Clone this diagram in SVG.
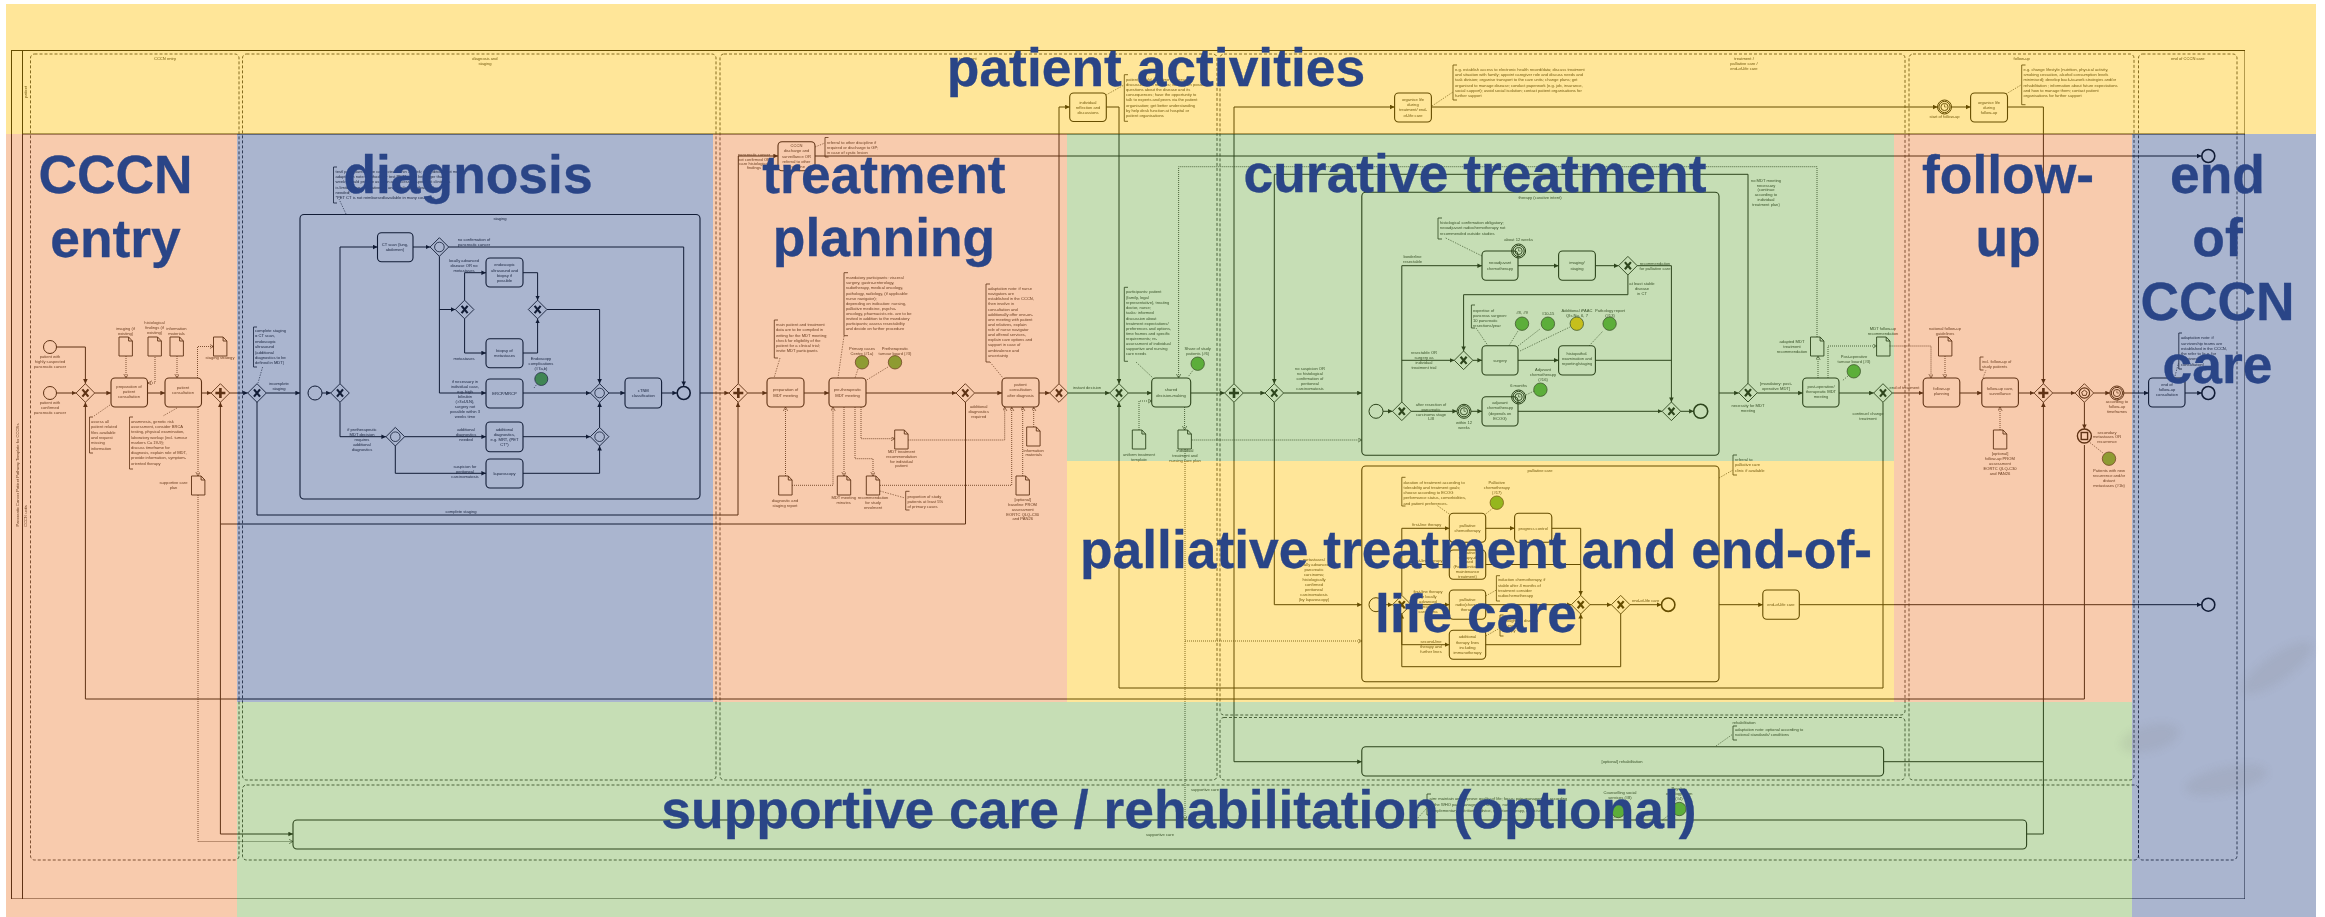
<svg xmlns="http://www.w3.org/2000/svg" width="2325" height="917" viewBox="0 0 2325 917">
<style>
text{font-family:"Liberation Sans",Arial,sans-serif}
.t{font-size:4.1px;fill:#111}
.c{text-anchor:middle}
.h{font-size:53.4px;font-weight:bold;fill:#2A4587;text-anchor:middle;stroke:#2A4587;stroke-width:.3}
.b{opacity:.4}
.pool{fill:none;stroke:#000;stroke-width:1}
.grp{fill:none;stroke:#000;stroke-width:.8;stroke-dasharray:3 2}
.task{fill:none;stroke:#000;stroke-width:1.1}
.sub{fill:none;stroke:#000;stroke-width:1.1}
.f{fill:none;stroke:#000;stroke-width:1}
.a{marker-end:url(#ar)}
.d{fill:none;stroke:#000;stroke-width:.8;stroke-dasharray:1 1}
.o{marker-end:url(#op)}
.l{fill:none;stroke:#000;stroke-width:.6;stroke-dasharray:1.4 1.2}
.br{fill:none;stroke:#000;stroke-width:.8}
.doc{fill:none;stroke:#000;stroke-width:.9}
.ev{fill:none;stroke:#000;stroke-width:1}
.end{fill:none;stroke:#000;stroke-width:1.6}
.kpi{stroke:#222;stroke-width:.8;fill:#50B030}
.kpo{stroke:#222;stroke-width:.8;fill:#FFCC00}
</style>
<defs>
<filter id="soft" x="0" y="0" width="1" height="1"><feGaussianBlur stdDeviation=".3"/></filter>
<filter id="blot" x="-30%" y="-30%" width="160%" height="160%"><feGaussianBlur stdDeviation="4"/></filter>
<marker id="ar" markerUnits="userSpaceOnUse" markerWidth="5" markerHeight="5" refX="4.6" refY="2.3" orient="auto"><path d="M0 0L4.6 2.3L0 4.6Z" fill="#000"/></marker>
<marker id="op" markerUnits="userSpaceOnUse" markerWidth="5" markerHeight="5" refX="4" refY="2.2" orient="auto"><path d="M0 0L4 2.2L0 4.4" fill="none" stroke="#000" stroke-width=".6"/></marker>
<g id="xor"><path d="M0-9.3L9.3 0L0 9.3L-9.3 0Z" fill="none" stroke="#000" stroke-width=".9"/><path d="M-3-3.6L3 3.6M3-3.6L-3 3.6" fill="none" stroke="#000" stroke-width="2.2"/></g>
<g id="and"><path d="M0-9.3L9.3 0L0 9.3L-9.3 0Z" fill="none" stroke="#000" stroke-width=".9"/><path d="M-5 0H5M0-5V5" fill="none" stroke="#000" stroke-width="2.6"/></g>
<g id="evg"><path d="M0-9.3L9.3 0L0 9.3L-9.3 0Z" fill="none" stroke="#000" stroke-width=".9"/><circle r="4.8" fill="none" stroke="#000" stroke-width=".8"/></g>
<g id="evd"><path d="M0-9.3L9.3 0L0 9.3L-9.3 0Z" fill="none" stroke="#000" stroke-width=".9"/><circle r="5.2" fill="none" stroke="#000" stroke-width="1.2"/><path d="M0-2.8L2.7-.8L1.7 2.4H-1.7L-2.7-.8Z" fill="none" stroke="#000" stroke-width=".9"/></g>
<g id="tim"><circle r="7" fill="none" stroke="#000" stroke-width="1"/><circle r="5.6" fill="none" stroke="#000" stroke-width="1"/><circle r="3.6" fill="none" stroke="#000" stroke-width=".9"/><path d="M0-2.6V0H2" fill="none" stroke="#000" stroke-width=".6"/></g>
<g id="doc"><path d="M0 0H9.6L13.4 4V19H0Z" class="doc"/><path d="M9.6 0V4H13.4" class="doc"/></g>
</defs>
<rect width="2325" height="917" fill="#fff"/>

<g id="diagram" filter="url(#soft)">
<g id="pool">
<rect class="pool" x="11.5" y="50.5" width="2233.5" height="848.5"/>
<path class="pool" d="M22.5 50.5V899M22.5 134H2245"/>
<text class="t c" transform="translate(18.5 475) rotate(-90)">Pancreatic Cancer Patient Pathway Template for CCCNs</text>
<text class="t c" transform="translate(26.5 516) rotate(-90)">CCCN units</text>
<text class="t c" transform="translate(26.5 92) rotate(-90)">patient</text>
</g>

<g id="phases">
<rect class="grp" x="30.5" y="54" width="208.5" height="806" rx="4"/><text class="t c" x="165" y="60">CCCN entry</text>
<rect class="grp" x="242.5" y="54" width="473.5" height="726" rx="4"/><text class="t c" x="485" y="60">diagnosis and</text><text class="t c" x="485" y="65">staging</text>
<rect class="grp" x="720" y="54" width="497" height="726" rx="4"/><text class="t c" x="968" y="60">treatment</text>
<rect class="grp" x="1220" y="54" width="685" height="661" rx="4"/><text class="t c" x="1744" y="60">treatment /</text><text class="t c" x="1744" y="65">palliative care /</text><text class="t c" x="1744" y="70">end-of-life care</text>
<rect class="grp" x="1220" y="717.5" width="685" height="62.5" rx="4"/><text class="t c" x="1744" y="724">rehabilitation</text>
<rect class="grp" x="1909" y="54" width="225" height="726" rx="4"/><text class="t c" x="2021.7" y="60">follow-up</text>
<rect class="grp" x="2138.5" y="54" width="98.5" height="806" rx="4"/><text class="t c" x="2187.8" y="60">end of CCCN care</text>
<rect class="grp" x="242.5" y="785" width="1896" height="75" rx="4"/><text class="t c" x="1205" y="791">supportive care</text>
</g>

<g id="connectors">
<path class="f a" d="M56.5 347H85.4V383.7"/>
<path class="f a" d="M56.5 393H76.1"/>
<path class="f a" d="M94.7 393H111"/>
<path class="f a" d="M147.5 393H165"/>
<path class="f a" d="M201.5 393H211.1"/>
<path class="f a" d="M229.7 393H247.7"/>
<path class="f a" d="M2084.4 445V699H85.4V402.3"/>
<path class="f a" d="M965.5 402V524H220.4V402.3"/>
<path class="f a" d="M220.4 524V834H293"/>
<path class="d o" d="M126 356V378"/>
<path class="d o" d="M155 357V383H148"/>
<path class="d o" d="M177 356V378"/>
<path class="d o" d="M197.5 378V346.5H213.5"/>
<path class="d o" d="M198 407V476"/>
<path class="d o" d="M198 495V841.5H293"/>
<path class="l" d="M110 405L94 416M177 408L163 416M262.6 367L258 383"/>
<path class="f a" d="M266.3 393H300"/>
<path class="f a" d="M257 402V515H738V402.3"/>
<path class="f a" d="M322 393H330.7"/>
<path class="f a" d="M340 383.7V247H377.5"/>
<path class="f a" d="M340 402.3V436.7H386"/>
<path class="f a" d="M413 247H430.1"/>
<path class="f a" d="M448.7 247H683.7V386"/>
<path class="f a" d="M439.4 256.3V393H486"/>
<path class="f a" d="M439.4 309.5H455.3"/>
<path class="f a" d="M464.6 300.2V272.7H486"/>
<path class="f a" d="M464.6 318.8V353H486"/>
<path class="f a" d="M523 272.7H537.6V300.2"/>
<path class="f a" d="M523 353H537.6V318.8"/>
<path class="f a" d="M546.9 309.5H599.6V383.7"/>
<path class="f a" d="M523 393H590.3"/>
<path class="f a" d="M404.6 436.7H486"/>
<path class="f a" d="M395.3 446V473.3H486"/>
<path class="f a" d="M523 436.7H590.3"/>
<path class="f a" d="M523 473.3H599.6V446"/>
<path class="f a" d="M599.6 427.4V402.3"/>
<path class="f a" d="M608.9 393H625"/>
<path class="f a" d="M661.6 393H677"/>
<path class="f a" d="M700 393H729"/>
<path class="l" d="M346 214L339 199M534 388L537 384"/>
<path class="f a" d="M747.6 393H767"/>
<path class="f a" d="M738.3 383.7V156H778"/>
<path class="f a" d="M815 156H2201.5"/>
<path class="f a" d="M804 393H829"/>
<path class="f a" d="M866 393H956.2"/>
<path class="f a" d="M974.8 393H1002"/>
<path class="f a" d="M1039 393H1049.7"/>
<path class="f a" d="M1059 383.7V107H1069.7"/>
<path class="f a" d="M1106.3 107H1119V383.7"/>
<path class="f a" d="M1068.3 393H1109.7"/>
<path class="f a" d="M1128.3 393H1151.7"/>
<path class="f a" d="M1883 402.3V688H1119V402.3"/>
<path class="d o" d="M785.5 476V407"/>
<path class="d o" d="M792 485.3H833V407"/>
<path class="d o" d="M844 407V476"/>
<path class="d o" d="M855 407V458.7H873V476"/>
<path class="d o" d="M861 407V438.7H894.7"/>
<path class="d o" d="M908.3 440H1004.7V407"/>
<path class="d o" d="M880 485.3H1011.7V407"/>
<path class="d o" d="M1022.7 476V407"/>
<path class="d o" d="M1033.7 427V407"/>
<path class="d o" d="M1139 430V401H1151.7"/>
<path class="d o" d="M1184.6 407V430"/>
<path class="d o" d="M1191.7 440H1361.8"/>
<path class="d o" d="M1185 449V820"/>
<path class="d o" d="M1185 641H1361.8"/>
<path class="d o" d="M1817 337V166.7H1178.6V378"/>
<path class="l" d="M780 358L774 378M844 336L838 378M990 362L1003 378M1136 362L1153 378M858 369L855 378M888 367L866.7 380M1192.7 370.7L1188 377M880 491L905 498M815 147L825 143M1106 95L1124 85"/>
<path class="f a" d="M1190.7 393H1224.7"/>
<path class="f a" d="M1234 383.7V107H1394.6"/>
<path class="f a" d="M1431.4 107H1937.5"/>
<path class="f a" d="M1243.3 393H1265"/>
<path class="f a" d="M1234 402.3V761.7H1361.8"/>
<path class="f a" d="M1748 383.7V174.3H1274.3V383.7"/>
<path class="f a" d="M1283.6 393H1361.8"/>
<path class="f a" d="M1274.3 402.3V604.7H1361.8"/>
<path class="f a" d="M1719 393H1738.7"/>
<path class="f a" d="M1719 604.7H1762.8"/>
<path class="f a" d="M1799.3 604.7H2201.5"/>
<path class="f a" d="M1757.3 393H1802.7"/>
<path class="f a" d="M1839 393H1873.7"/>
<path class="f a" d="M1892.3 393H1923.2"/>
<path class="d o" d="M1818 378V356"/>
<path class="d o" d="M1828 378V346H1876.6"/>
<path class="d o" d="M1889.6 346H1931V378"/>
<path class="d o" d="M1945 356V378"/>
<path class="d o" d="M2000 430V407"/>
<path class="f a" d="M1959.8 393H1981.8"/>
<path class="f a" d="M2018.4 393H2034.1"/>
<path class="f a" d="M2052.7 393H2075.1"/>
<path class="f a" d="M2093.7 393H2109.9"/>
<path class="f a" d="M2123.9 393H2148.6"/>
<path class="f a" d="M2185 393H2201.8"/>
<path class="f a" d="M2084.4 402.3V429"/>
<path class="f a" d="M1951.5 107H1970.6"/>
<path class="f a" d="M2007.5 107H2043.4V383.7"/>
<path class="f a" d="M1883.6 761.7H2043.4V402.3"/>
<path class="f" d="M2026.6 834H2043.4V761.7"/>
<path class="l" d="M1432 106L1453 92M2006 94L2021 85M1983 378L1986 370M1848 376L1842 381M2088 441L2103 453M2175 376L2178.5 363M1719 478L1733 470M1716 746L1733 734M1416 820L1427 808M1612.5 820L1618 811M1662.5 820L1673 812"/>
<path class="f a" d="M1383 411.3H1392.5"/>
<path class="f a" d="M1401.8 402V265.7H1482"/>
<path class="f a" d="M1518 265.7H1558.6"/>
<path class="f a" d="M1595.4 265.7H1618.6"/>
<path class="f a" d="M1637.2 265.7H1671.4V402"/>
<path class="f a" d="M1627.9 275V294.7H1463.6V351"/>
<path class="f a" d="M1401.8 360.3H1454.3"/>
<path class="f a" d="M1472.9 360.3H1482"/>
<path class="f a" d="M1518 360.3H1558.6"/>
<path class="f" d="M1595.4 360.3H1671.4"/>
<path class="f a" d="M1411.1 411.3H1457"/>
<path class="f a" d="M1471 411.3H1482"/>
<path class="f a" d="M1518 411.3H1662.1"/>
<path class="f a" d="M1680.7 411.3H1693.7"/>
<path class="l" d="M1445.7 238L1482 256M1476 328L1487.5 345M1509 345.7L1518 331M1518 346L1540 329M1520 351L1570 327M1589 346L1603 331M1526 395L1534 391"/>
<path class="f a" d="M1383 604.7H1392.5"/>
<path class="f a" d="M1401.8 595.4V528.3H1449.3"/>
<path class="f a" d="M1485.7 528.3H1514.6"/>
<path class="f a" d="M1551.8 528.3H1580.7V595.4"/>
<path class="f a" d="M1401.8 564.5H1449.3"/>
<path class="f" d="M1485.7 564.5H1580.7"/>
<path class="f a" d="M1411.1 604.7H1449.3"/>
<path class="f a" d="M1485.7 604.7H1571.4"/>
<path class="f a" d="M1401.8 614V644.7H1449.3"/>
<path class="f a" d="M1485.7 644.7H1580.7V614"/>
<path class="f a" d="M1590 604.7H1611.4"/>
<path class="f a" d="M1630 604.7H1661.5"/>
<path class="f a" d="M1620.7 614V666.7H1401.8V614"/>
<path class="l" d="M1437.5 505.7L1449.3 514M1485.7 514L1493 508M1485.7 596L1496.4 590M1485.7 636L1500 628"/>
</g>

<g id="s1"><circle class="ev" cx="50" cy="347" r="6.5"/><text class="t c" x="50" y="358">patient with<tspan x="50" dy="5">highly suspected</tspan><tspan x="50" dy="5">pancreatic cancer</tspan></text></g>
<g id="s2"><circle class="ev" cx="50" cy="393" r="6.5"/><text class="t c" x="50" y="404">patient with<tspan x="50" dy="5">confirmed</tspan><tspan x="50" dy="5">pancreatic cancer</tspan></text></g>
<g id="g1"><use href="#xor" x="85.4" y="393"/></g>
<g id="t1"><rect class="task" x="111" y="378" width="36.5" height="29" rx="4"/><text class="t c" x="129" y="388">preparation of<tspan x="129" dy="5">patient</tspan><tspan x="129" dy="5">consultation</tspan></text></g>
<g id="t2"><rect class="task" x="165" y="378" width="36.5" height="29" rx="4"/><text class="t c" x="183" y="388.5">patient<tspan x="183" dy="5">consultation</tspan></text></g>
<g id="g2"><use href="#and" x="220.4" y="393"/></g>
<g id="d1"><use href="#doc" x="119" y="337"/><text class="t c" x="125.5" y="330">imaging (if<tspan x="125.5" dy="5">existing)</tspan></text></g>
<g id="d2"><use href="#doc" x="148" y="337"/><text class="t c" x="154.5" y="324">histological<tspan x="154.5" dy="5">findings (if</tspan><tspan x="154.5" dy="5">existing)</tspan></text></g>
<g id="d3"><use href="#doc" x="170" y="337"/><text class="t c" x="176.5" y="330">information<tspan x="176.5" dy="5">materials</tspan></text></g>
<g id="d4"><use href="#doc" x="213.5" y="337"/><text class="t c" x="220" y="359">staging strategy</text></g>
<g id="d5"><use href="#doc" x="191.5" y="476"/><text class="t c" x="173.5" y="484">supportive care<tspan x="173.5" dy="5">plan</tspan></text></g>
<g id="n1"><path class="br" d="M93 417H89.5V453H93"/><text class="t" x="91" y="423">assess all<tspan x="91" dy="5.3">patient related</tspan><tspan x="91" dy="5.3">files available</tspan><tspan x="91" dy="5.3">and request</tspan><tspan x="91" dy="5.3">missing</tspan><tspan x="91" dy="5.3">information</tspan></text></g>
<g id="n2"><path class="br" d="M133 417H129.5V469H133"/><text class="t" x="131" y="423">anamnesis, genetic risk<tspan x="131" dy="5.2">assessment, consider BRCA</tspan><tspan x="131" dy="5.2">testing, physical examination,</tspan><tspan x="131" dy="5.2">laboratory workup (incl. tumour</tspan><tspan x="131" dy="5.2">markers Ca 19-9);</tspan><tspan x="131" dy="5.2">discuss timeframe for</tspan><tspan x="131" dy="5.2">diagnosis, explain role of MDT,</tspan><tspan x="131" dy="5.2">provide information, symptom-</tspan><tspan x="131" dy="5.2">oriented therapy</tspan></text></g>

<g id="g3"><use href="#xor" x="257" y="393"/><text class="t c" x="279" y="385">incomplete<tspan x="279" dy="5">staging</tspan></text><text class="t c" x="461" y="513">complete staging</text></g>
<g id="n3"><path class="br" d="M257 327H253.5V367H257"/><text class="t" x="255" y="332">complete staging<tspan x="255" dy="5.4">= CT scan,</tspan><tspan x="255" dy="5.4">endoscopic</tspan><tspan x="255" dy="5.4">ultrasound</tspan><tspan x="255" dy="5.4">(additional</tspan><tspan x="255" dy="5.4">diagnostics to be</tspan><tspan x="255" dy="5.4">defined in MDT)</tspan></text></g>
<g id="n4"><path class="br" d="M337 167H333.5V203H337"/><text class="t" x="335.5" y="173">test/ procedures to be conducted within 1 week; if conditions not met,<tspan x="335.5" dy="5">adaptation note: methods for test PET* might be longer than 1</tspan><tspan x="335.5" dy="5.4">week; should provide as soon as; access to specialist clinicians</tspan><tspan x="335.5" dy="5.2">is limited; use alternative CT and available pathways if</tspan><tspan x="335.5" dy="5.2">needed;</tspan><tspan x="335.5" dy="5">*PET CT is not reimbursed/available in many countries</tspan></text></g>
<g id="sp1"><rect class="sub" x="300" y="214.5" width="400" height="284.5" rx="4"/><text class="t c" x="500" y="220">staging</text></g>
<g id="d_s"><circle class="ev" cx="315" cy="393" r="7"/></g>
<g id="g4"><use href="#xor" x="340" y="393"/></g>
<g id="t3"><rect class="task" x="377.5" y="232.7" width="35.5" height="29" rx="4"/><text class="t c" x="395" y="246">CT scan (lung,<tspan x="395" dy="5">abdomen)</tspan></text></g>
<g id="g5"><use href="#evg" x="439.4" y="247"/><text class="t c" x="474" y="240.5">no confirmation of<tspan x="474" dy="5">pancreatic cancer</tspan></text><text class="t c" x="464" y="262">locally advanced<tspan x="464" dy="5">disease OR no</tspan><tspan x="464" dy="5">metastases</tspan></text><text class="t c" x="464" y="360">metastases</text></g>
<g id="t4"><rect class="task" x="486" y="258" width="37" height="29" rx="4"/><text class="t c" x="504.5" y="266">endoscopic<tspan x="504.5" dy="5.5">ultrasound and</tspan><tspan x="504.5" dy="5.5">biopsy if</tspan><tspan x="504.5" dy="5">possible</tspan></text></g>
<g id="g6"><use href="#xor" x="464.6" y="309.5"/></g>
<g id="g7"><use href="#xor" x="537.6" y="309.5"/></g>
<g id="t5"><rect class="task" x="486" y="338.7" width="37" height="29" rx="4"/><text class="t c" x="504.5" y="352">biopsy of<tspan x="504.5" dy="5">metastases</tspan></text></g>
<g id="t6"><rect class="task" x="486" y="379" width="37" height="29" rx="4"/><text class="t c" x="504.5" y="394.5">ERCP/MRCP</text><text class="t c" x="465" y="383">if necessary in<tspan x="465" dy="5">individual case,</tspan><tspan x="465" dy="5">e.g. high</tspan><tspan x="465" dy="5">bilirubin</tspan><tspan x="465" dy="5">(&gt;3xULN),</tspan><tspan x="465" dy="5">surgery not</tspan><tspan x="465" dy="5">possible within 3</tspan><tspan x="465" dy="5">weeks time</tspan></text></g>
<g id="k1"><circle class="kpi" cx="541.3" cy="379" r="6.5"/><text class="t c" x="541" y="360">Endoscopy<tspan x="541" dy="5">complications</tspan><tspan x="541" dy="5">(#7a,b)</tspan></text></g>
<g id="g8"><use href="#evg" x="599.6" y="393"/></g>
<g id="t7"><rect class="task" x="625" y="378" width="36.6" height="30" rx="4"/><text class="t c" x="643.3" y="392">cTNM<tspan x="643.3" dy="5">classification</tspan></text></g>
<g id="e1"><circle class="end" cx="683.7" cy="393" r="6.5"/></g>
<g id="g9"><use href="#evg" x="395.3" y="436.7"/><text class="t c" x="362" y="431">if pretherapeutic<tspan x="362" dy="5">MDT decision</tspan><tspan x="362" dy="5">requires</tspan><tspan x="362" dy="5">additional</tspan><tspan x="362" dy="5">diagnostics</tspan></text><text class="t c" x="466" y="431">additional<tspan x="466" dy="5">diagnostics</tspan><tspan x="466" dy="5">needed</tspan></text></g>
<g id="t8"><rect class="task" x="486" y="422" width="37" height="29.7" rx="4"/><text class="t c" x="504.5" y="431">additional<tspan x="504.5" dy="5">diagnostics,</tspan><tspan x="504.5" dy="5">e.g. MRT, (PET</tspan><tspan x="504.5" dy="5">CT*)</tspan></text></g>
<g id="g10"><use href="#evg" x="599.6" y="436.7"/></g>
<g id="t9"><rect class="task" x="486" y="459" width="37" height="29" rx="4"/><text class="t c" x="504.5" y="475">laparoscopy</text><text class="t c" x="465" y="467.5">suspicion for<tspan x="465" dy="5">peritoneal</tspan><tspan x="465" dy="5">carcinomatosis</tspan></text></g>

<g id="g11"><use href="#and" x="738.3" y="393"/></g>
<g id="t10"><rect class="task" x="767" y="378" width="37" height="29" rx="4"/><text class="t c" x="785.5" y="391">preparation of<tspan x="785.5" dy="6">MDT meeting</tspan></text></g>
<g id="t11"><rect class="task" x="829" y="378" width="37" height="29" rx="4"/><text class="t c" x="847.5" y="391">pre-therapeutic<tspan x="847.5" dy="6">MDT meeting</tspan></text></g>
<g id="g12"><use href="#xor" x="965.3" y="393"/><text class="t c" x="978.7" y="408">additional<tspan x="978.7" dy="4.8">diagnostics</tspan><tspan x="978.7" dy="4.8">required</tspan></text></g>
<g id="t12"><rect class="task" x="1002" y="378" width="37" height="29" rx="4"/><text class="t c" x="1020.5" y="386">patient<tspan x="1020.5" dy="5">consultation</tspan><tspan x="1020.5" dy="6">after diagnosis</tspan></text></g>
<g id="g13"><use href="#xor" x="1059" y="393"/><text class="t c" x="1087" y="389">instant decision</text></g>
<g id="t13"><rect class="task" x="778" y="141.7" width="37" height="29" rx="4"/><text class="t c" x="796.5" y="147">CCCN<tspan x="796.5" dy="5">discharge and</tspan><tspan x="796.5" dy="5.5">surveillance OR</tspan><tspan x="796.5" dy="5">referral to other</tspan><tspan x="796.5" dy="5">discipline</tspan></text><text class="t c" x="754" y="156">pancreatic cancer</text><text class="t c" x="754" y="161">not confirmed OR</text><text class="t c" x="754" y="165">care histological</text><text class="t c" x="754" y="169">findings</text></g>
<g id="n5"><path class="br" d="M828.5 137.5H825V157H828.5"/><text class="t" x="827" y="144">referral to other discipline if<tspan x="827" dy="5">required or discharge to GP;</tspan><tspan x="827" dy="5">in case of cystic lesion</tspan></text></g>
<g id="n6"><path class="br" d="M778 320H774.3V358H778"/><text class="t" x="776" y="326">main patient and treatment<tspan x="776" dy="5">data are to be compiled in</tspan><tspan x="776" dy="5.5">writing for the MDT meeting;</tspan><tspan x="776" dy="5">check for eligibility of the</tspan><tspan x="776" dy="5">patient for a clinical trial;</tspan><tspan x="776" dy="5">invite MDT participants</tspan></text></g>
<g id="n7"><path class="br" d="M848 272.7H844V335.7H848"/><text class="t" x="846" y="279">mandatory participants: visceral<tspan x="846" dy="5">surgery, gastro-enterology,</tspan><tspan x="846" dy="5">radiotherapy, medical oncology,</tspan><tspan x="846" dy="5.5">pathology, radiology, (if applicable:</tspan><tspan x="846" dy="5">nurse navigator);</tspan><tspan x="846" dy="5">depending on indication: nursing,</tspan><tspan x="846" dy="5">palliative medicine, psycho-</tspan><tspan x="846" dy="5.5">oncology, pharmacists etc. are to be</tspan><tspan x="846" dy="5">invited in addition to the mandatory</tspan><tspan x="846" dy="5">participants; assess resectability</tspan><tspan x="846" dy="5">and decide on further procedure</tspan></text></g>
<g id="n8"><path class="br" d="M990 284H986V362H990"/><text class="t" x="988" y="290">adaptation note: if nurse<tspan x="988" dy="5">navigators are</tspan><tspan x="988" dy="5">established in the CCCN,</tspan><tspan x="988" dy="5">then involve in</tspan><tspan x="988" dy="5.5">consultation and</tspan><tspan x="988" dy="5">additionally offer one-on-</tspan><tspan x="988" dy="5">one meeting with patient</tspan><tspan x="988" dy="5">and relatives, explain</tspan><tspan x="988" dy="5.5">role of nurse navigator</tspan><tspan x="988" dy="5">and offered services,</tspan><tspan x="988" dy="5">explain care options and</tspan><tspan x="988" dy="5">support in case of</tspan><tspan x="988" dy="5.5">ambivalence and</tspan><tspan x="988" dy="5">uncertainty</tspan></text></g>
<g id="k2"><circle class="kpi" cx="862" cy="362.3" r="6.7"/><text class="t c" x="862" y="350">Primary cases<tspan x="862" dy="4.5">Centre (#1a)</tspan></text></g>
<g id="k3"><circle class="kpi" cx="895" cy="362.3" r="6.7"/><text class="t c" x="895" y="350">Pretherapeutic<tspan x="895" dy="4.5">tumour board (#3)</tspan></text></g>
<g id="d6"><use href="#doc" x="894.7" y="430"/><text class="t c" x="901.5" y="453">MDT treatment<tspan x="901.5" dy="5">recommendation</tspan><tspan x="901.5" dy="4.5">for individual</tspan><tspan x="901.5" dy="4.5">patient</tspan></text></g>
<g id="d7"><use href="#doc" x="1026.7" y="427"/><text class="t c" x="1033.7" y="451.5">information<tspan x="1033.7" dy="4.5">materials</tspan></text></g>
<g id="d8"><use href="#doc" x="778.7" y="476"/><text class="t c" x="785" y="502">diagnostic and<tspan x="785" dy="5">staging report</tspan></text></g>
<g id="d9"><use href="#doc" x="837.3" y="476"/><text class="t c" x="843.7" y="498.5">MDT meeting<tspan x="843.7" dy="5">minutes</tspan></text></g>
<g id="d10"><use href="#doc" x="866.3" y="476"/><text class="t c" x="873" y="498.5">recommendation<tspan x="873" dy="5">for study</tspan><tspan x="873" dy="5">enrolment</tspan></text></g>
<g id="d11"><use href="#doc" x="1016" y="476"/><text class="t c" x="1022.7" y="501">[optional]<tspan x="1022.7" dy="5">baseline PROM</tspan><tspan x="1022.7" dy="4.5">assessment</tspan><tspan x="1022.7" dy="5">EORTC QLQ-C30</tspan><tspan x="1022.7" dy="4.5">and PAN26</tspan></text></g>
<g id="n9"><path class="br" d="M909.5 491.3H905.7V510H909.5"/><text class="t" x="907.5" y="498">proportion of study<tspan x="907.5" dy="5">patients at least 5%</tspan><tspan x="907.5" dy="5">of primary cases</tspan></text></g>
<g id="t14"><rect class="task" x="1069.7" y="93" width="36.6" height="28.5" rx="4"/><text class="t c" x="1088" y="104">individual<tspan x="1088" dy="5">reflection and</tspan><tspan x="1088" dy="5">discussions</tspan></text></g>
<g id="n10"><path class="br" d="M1128 74.7H1124.3V121.3H1128"/><text class="t" x="1126" y="81">patient should take time for personal<tspan x="1126" dy="5">discussion with relatives; write down possible</tspan><tspan x="1126" dy="5">questions about the disease and its</tspan><tspan x="1126" dy="5">consequences; have the opportunity to</tspan><tspan x="1126" dy="5">talk to experts and peers via the patient</tspan><tspan x="1126" dy="5.5">organisation; get better understanding</tspan><tspan x="1126" dy="5">by help desk function at hospital or</tspan><tspan x="1126" dy="5">patient organisations</tspan></text></g>

<g id="g14"><use href="#xor" x="1119" y="393"/></g>
<g id="t15"><rect class="task" x="1151.7" y="378" width="39" height="29" rx="4"/><text class="t c" x="1171" y="391">shared<tspan x="1171" dy="6">decision-making</tspan></text></g>
<g id="n11"><path class="br" d="M1128 287.3H1124.3V361.3H1128"/><text class="t" x="1126" y="293">participants: patient<tspan x="1126" dy="5.5">(family, legal</tspan><tspan x="1126" dy="5">representative), treating</tspan><tspan x="1126" dy="5">doctor, nurse;</tspan><tspan x="1126" dy="5">tasks: informed</tspan><tspan x="1126" dy="6">discussion about</tspan><tspan x="1126" dy="5">treatment expectations/</tspan><tspan x="1126" dy="5">preferences and options,</tspan><tspan x="1126" dy="5">time frames and specific</tspan><tspan x="1126" dy="5.8">requirements; re-</tspan><tspan x="1126" dy="5">assessment of individual</tspan><tspan x="1126" dy="5">supportive and nursing</tspan><tspan x="1126" dy="5">care needs</tspan></text></g>
<g id="k4"><circle class="kpi" cx="1197.7" cy="363.7" r="6.7"/><text class="t c" x="1197.7" y="350">Share of study<tspan x="1197.7" dy="4.5">patients (#6)</tspan></text></g>
<g id="d12"><use href="#doc" x="1132.3" y="430"/><text class="t c" x="1139" y="456">uniform treatment<tspan x="1139" dy="5">template</tspan></text></g>
<g id="d13"><use href="#doc" x="1178" y="430"/><text class="t c" x="1185" y="452">individual<tspan x="1185" dy="5">treatment and</tspan><tspan x="1185" dy="5">nursing care plan</tspan></text></g>
<g id="g15"><use href="#and" x="1234" y="393"/></g>
<g id="g16"><use href="#xor" x="1274.3" y="393"/><text class="t c" x="1310" y="370">no suspicion OR<tspan x="1310" dy="5">no histological</tspan><tspan x="1310" dy="5">confirmation of</tspan><tspan x="1310" dy="5">peritoneal</tspan><tspan x="1310" dy="5">carcinomatosis</tspan></text><text class="t c" x="1314" y="561">metastases/<tspan x="1314" dy="5">locally advanced</tspan><tspan x="1314" dy="5">pancreatic</tspan><tspan x="1314" dy="4.5">carcinoma;</tspan><tspan x="1314" dy="5">histologically</tspan><tspan x="1314" dy="5">confirmed</tspan><tspan x="1314" dy="5">peritoneal</tspan><tspan x="1314" dy="5">carcinomatosis</tspan><tspan x="1314" dy="5">(by laparoscopy)</tspan></text></g>
<g id="t16"><rect class="task" x="1394.6" y="93" width="36.8" height="29" rx="4"/><text class="t c" x="1413" y="101">organise life<tspan x="1413" dy="5">during</tspan><tspan x="1413" dy="5">treatment/ end-</tspan><tspan x="1413" dy="6">of-life care</tspan></text></g>
<g id="n12"><path class="br" d="M1457 65H1453V100H1457"/><text class="t" x="1455" y="71">e.g. establish access to electronic health record/data; discuss treatment<tspan x="1455" dy="5">and situation with family; appoint caregiver role and discuss needs and</tspan><tspan x="1455" dy="5">task division; organise transport to the care units; change plans; get</tspan><tspan x="1455" dy="6">organised to manage disease; conduct paperwork (e.g. job, insurance,</tspan><tspan x="1455" dy="5">social support); avoid social isolation; contact patient organisations for</tspan><tspan x="1455" dy="5">further support</tspan></text></g>

<g id="sp2"><rect class="sub" x="1361.8" y="192.3" width="357.2" height="263" rx="4"/><text class="t c" x="1540" y="199">therapy (curative intent)</text></g>
<g id="th_s"><circle class="ev" cx="1376" cy="411.3" r="7"/></g>
<g id="g17"><use href="#xor" x="1401.8" y="411.3"/><text class="t c" x="1412.5" y="258">borderline<tspan x="1412.5" dy="5">resectable</tspan></text><text class="t c" x="1424" y="354">resectable OR<tspan x="1424" dy="5">surgery as</tspan><tspan x="1424" dy="5">individual</tspan><tspan x="1424" dy="5">treatment trial</tspan></text><text class="t c" x="1431" y="406">after resection of<tspan x="1431" dy="4.8">pancreatic</tspan><tspan x="1431" dy="4.8">carcinoma stage</tspan><tspan x="1431" dy="4.8">I-III</tspan></text></g>
<g id="t17"><rect class="task" x="1482" y="251" width="36" height="29.3" rx="4"/><text class="t c" x="1500" y="264">neoadjuvant<tspan x="1500" dy="6">chemotherapy</tspan></text></g>
<g id="tm1"><use href="#tim" x="1518.6" y="251"/><text class="t c" x="1518.6" y="241">about 12 weeks</text></g>
<g id="n13"><path class="br" d="M1442 218H1438V239H1442"/><text class="t" x="1440" y="224">histological confirmation obligatory;<tspan x="1440" dy="5">neoadjuvant radiochemotherapy not</tspan><tspan x="1440" dy="6">recommended outside studies</tspan></text></g>
<g id="t18"><rect class="task" x="1558.6" y="251" width="36.8" height="29.3" rx="4"/><text class="t c" x="1577" y="264">imaging/<tspan x="1577" dy="6">staging</tspan></text></g>
<g id="g18"><use href="#xor" x="1627.9" y="265.7"/><text class="t c" x="1655" y="264.5">recommendation<tspan x="1655" dy="5">for palliative care</tspan></text><text class="t c" x="1642" y="285">at least stable<tspan x="1642" dy="5">disease</tspan><tspan x="1642" dy="5">in CT</tspan></text></g>
<g id="g19"><use href="#xor" x="1463.6" y="360.3"/></g>
<g id="t19"><rect class="task" x="1482" y="345.7" width="36" height="29.3" rx="4"/><text class="t c" x="1500" y="362">surgery</text></g>
<g id="t20"><rect class="task" x="1558.6" y="345.7" width="36.8" height="29.3" rx="4"/><text class="t c" x="1577" y="355">histopathol.<tspan x="1577" dy="5">examination and</tspan><tspan x="1577" dy="5">reporting/staging</tspan></text></g>
<g id="n14"><path class="br" d="M1475 305H1471.4V328H1475"/><text class="t" x="1473" y="311.5">expertise of<tspan x="1473" dy="5">pancreas surgeon:</tspan><tspan x="1473" dy="5">10 pancreatic</tspan><tspan x="1473" dy="5.5">resections/year</tspan></text></g>
<g id="k5"><circle class="kpi" cx="1522" cy="323.7" r="6.7"/><text class="t c" x="1522" y="314">#8, #9</text></g>
<g id="k6"><circle class="kpi" cx="1547.9" cy="323.7" r="6.7"/><text class="t c" x="1548" y="315">#10-15</text></g>
<g id="k7"><circle class="kpo" cx="1576.8" cy="323.7" r="6.7"/><text class="t c" x="1577" y="312">Additional iPAAC<tspan x="1577" dy="4.5">QIs No. 6, 7</tspan></text></g>
<g id="k8"><circle class="kpi" cx="1609.6" cy="323.7" r="6.7"/><text class="t c" x="1610" y="312">Pathology report<tspan x="1610" dy="4.5">(#13)</tspan></text></g>
<g id="tm2"><use href="#tim" x="1464" y="411.3"/><text class="t c" x="1464" y="424">within 12<tspan x="1464" dy="5">weeks</tspan></text></g>
<g id="t21"><rect class="task" x="1482" y="396.7" width="36" height="29.3" rx="4"/><text class="t c" x="1500" y="404">adjuvant<tspan x="1500" dy="5">chemotherapy</tspan><tspan x="1500" dy="6">(depends on</tspan><tspan x="1500" dy="5">ECOG)</tspan></text></g>
<g id="tm3"><use href="#tim" x="1518.6" y="397"/><text class="t c" x="1518.6" y="387">6 months</text></g>
<g id="k9"><circle class="kpi" cx="1540.4" cy="389.7" r="6.7"/><text class="t c" x="1543" y="371">Adjuvant<tspan x="1543" dy="5">chemotherapy</tspan><tspan x="1543" dy="5">(#16)</tspan></text></g>
<g id="g20"><use href="#xor" x="1671.4" y="411.3"/></g>
<g id="e2"><circle class="end" cx="1700.7" cy="411.3" r="7"/></g>
<g id="g21"><use href="#xor" x="1748" y="392.7"/><text class="t c" x="1748" y="407">necessity for MDT<tspan x="1748" dy="5">meeting</tspan></text><text class="t c" x="1766" y="181.5">no MDT meeting<tspan x="1766" dy="5">necessary</tspan><tspan x="1766" dy="4.5">(continue</tspan><tspan x="1766" dy="5">according to</tspan><tspan x="1766" dy="5">individual</tspan><tspan x="1766" dy="5">treatment plan)</tspan></text></g>

<g id="sp3"><rect class="sub" x="1361.8" y="466" width="357.2" height="215.7" rx="4"/><text class="t c" x="1540" y="471.5">palliative care</text></g>
<g id="p_s"><circle class="ev" cx="1376" cy="604.7" r="7"/></g>
<g id="g22"><use href="#xor" x="1401.8" y="604.7"/><text class="t c" x="1426.8" y="526">first-line therapy</text><text class="t c" x="1428" y="562">first-line therapy</text><text class="t c" x="1428" y="593">first-line therapy<tspan x="1428" dy="5">for locally</tspan><tspan x="1428" dy="5">advanced</tspan><tspan x="1428" dy="5">pancreatic</tspan><tspan x="1428" dy="5">carcinoma</tspan></text><text class="t c" x="1431" y="643">second-line<tspan x="1431" dy="5">therapy and</tspan><tspan x="1431" dy="5">further lines</tspan></text></g>
<g id="t22"><rect class="task" x="1449.3" y="513.3" width="36.4" height="29" rx="4"/><text class="t c" x="1467.5" y="527">palliative<tspan x="1467.5" dy="5">chemotherapy</tspan></text></g>
<g id="t23"><rect class="task" x="1514.6" y="513.3" width="37.2" height="29" rx="4"/><text class="t c" x="1533.2" y="530">progress control</text></g>
<g id="t24"><rect class="task" x="1449.3" y="550" width="36.4" height="29.3" rx="4"/><text class="t c" x="1467.5" y="554">palliative<tspan x="1467.5" dy="4.7">therapy-d</tspan><tspan x="1467.5" dy="4.7">based</tspan><tspan x="1467.5" dy="4.7">(Folfox-initiated</tspan><tspan x="1467.5" dy="4.7">maintenance</tspan><tspan x="1467.5" dy="4.7">treatment)</tspan></text></g>
<g id="t25"><rect class="task" x="1449.3" y="590" width="36.4" height="29.3" rx="4"/><text class="t c" x="1467.5" y="600.5">palliative<tspan x="1467.5" dy="5">radio(chemo)</tspan><tspan x="1467.5" dy="5">therapy</tspan></text></g>
<g id="t26"><rect class="task" x="1449.3" y="630.3" width="36.4" height="29" rx="4"/><text class="t c" x="1467.5" y="638">additional<tspan x="1467.5" dy="6">therapy lines</tspan><tspan x="1467.5" dy="5">including</tspan><tspan x="1467.5" dy="5">immunotherapy</tspan></text></g>
<g id="n15"><path class="br" d="M1405.5 477.3H1401.8V506H1405.5"/><text class="t" x="1403.5" y="483.5">duration of treatment according to<tspan x="1403.5" dy="5">tolerability and treatment goals;</tspan><tspan x="1403.5" dy="5">choose according to ECOG</tspan><tspan x="1403.5" dy="5">performance status, comorbidities,</tspan><tspan x="1403.5" dy="6">and patient preferences.</tspan></text></g>
<g id="k10"><circle class="kpi" cx="1496.8" cy="502.7" r="6.7"/><text class="t c" x="1496.8" y="484">Palliative<tspan x="1496.8" dy="5">chemotherapy</tspan><tspan x="1496.8" dy="5">(#17)</tspan></text></g>
<g id="n16"><path class="br" d="M1500 575.7H1496.4V601H1500"/><text class="t" x="1498" y="581">induction chemotherapy, if<tspan x="1498" dy="6">stable after 4 months of</tspan><tspan x="1498" dy="5">treatment consider</tspan><tspan x="1498" dy="5">radiochemotherapy</tspan></text></g>
<g id="n17"><path class="br" d="M1503.5 615H1500V636H1503.5"/><text class="t" x="1502" y="621.5">through the disease<tspan x="1502" dy="5">course</tspan><tspan x="1502" dy="5">therapy</tspan></text></g>
<g id="g23"><use href="#xor" x="1580.7" y="604.7"/></g>
<g id="g24"><use href="#xor" x="1620.7" y="604.7"/></g>
<g id="e3"><circle class="end" cx="1668.2" cy="604.7" r="6.7"/><text class="t c" x="1645.6" y="601.5">end-of-life care</text></g>
<g id="n18"><path class="br" d="M1737 455H1733V475H1737"/><text class="t" x="1735" y="461">referral to<tspan x="1735" dy="5">palliative care</tspan><tspan x="1735" dy="5.5">clinic if available</tspan></text></g>
<g id="t27"><rect class="task" x="1762.8" y="590" width="36.5" height="29.3" rx="4"/><text class="t c" x="1781" y="606">end-of-life care</text></g>

<g id="t28"><rect class="task" x="1802.7" y="378" width="36.3" height="29" rx="4"/><text class="t c" x="1821" y="388">post-operative/<tspan x="1821" dy="5">therapeutic MDT</tspan><tspan x="1821" dy="5">meeting</tspan></text><text class="t c" x="1776" y="384.5">[mandatory: post-<tspan x="1776" dy="5">operative MDT]</tspan></text></g>
<g id="d14"><use href="#doc" x="1810.5" y="337"/><text class="t c" x="1792" y="343">adapted MDT<tspan x="1792" dy="5">treatment</tspan><tspan x="1792" dy="5">recommendation</tspan></text></g>
<g id="k11"><circle class="kpi" cx="1853.8" cy="371.3" r="6.7"/><text class="t c" x="1854" y="357.5">Post-operative<tspan x="1854" dy="5">tumour board (#3)</tspan></text></g>
<g id="d15"><use href="#doc" x="1876.6" y="337"/><text class="t c" x="1883" y="330">MDT follow-up<tspan x="1883" dy="5">recommendation</tspan></text></g>
<g id="g25"><use href="#xor" x="1883" y="393"/><text class="t c" x="1904.5" y="388.5">end of treatment</text><text class="t c" x="1868" y="415">continue/ change<tspan x="1868" dy="5">treatment</tspan></text></g>
<g id="t29"><rect class="task" x="1923.2" y="378" width="36.6" height="29" rx="4"/><text class="t c" x="1941.5" y="389.5">follow-up<tspan x="1941.5" dy="5">planning</tspan></text></g>
<g id="d16"><use href="#doc" x="1938.5" y="337"/><text class="t c" x="1945" y="330">national follow-up<tspan x="1945" dy="5">guidelines</tspan></text></g>
<g id="t30"><rect class="task" x="1981.8" y="378" width="36.6" height="29" rx="4"/><text class="t c" x="2000" y="389.5">follow-up care,<tspan x="2000" dy="5">surveillance</tspan></text></g>
<g id="n19"><path class="br" d="M1983.5 357H1980V370H1983.5"/><text class="t" x="1982" y="363">incl. follow-up of<tspan x="1982" dy="5">study patients</tspan></text></g>
<g id="d17"><use href="#doc" x="1993.4" y="430"/><text class="t c" x="2000" y="455">[optional]<tspan x="2000" dy="5">follow-up PROM</tspan><tspan x="2000" dy="5">assessment</tspan><tspan x="2000" dy="5">EORTC QLQ-C30</tspan><tspan x="2000" dy="5">and PAN26</tspan></text></g>
<g id="t31"><rect class="task" x="1970.6" y="93" width="36.9" height="29" rx="4"/><text class="t c" x="1989" y="104">organise life<tspan x="1989" dy="5">during</tspan><tspan x="1989" dy="5">follow-up</tspan></text></g>
<g id="tm4"><use href="#tim" x="1944.5" y="107"/><text class="t c" x="1944.5" y="118">start of follow-up</text></g>
<g id="n20"><path class="br" d="M2025.5 65H2021.7V104.7H2025.5"/><text class="t" x="2023.5" y="71">e.g. change lifestyle (nutrition, physical activity,<tspan x="2023.5" dy="5">smoking cessation, alcohol consumption levels</tspan><tspan x="2023.5" dy="5">minimised); develop back-to-work strategies and/or</tspan><tspan x="2023.5" dy="6">rehabilitation ; information about future expectations</tspan><tspan x="2023.5" dy="5">and how to manage them; contact patient</tspan><tspan x="2023.5" dy="5">organisations for further support</tspan></text></g>
<g id="g26"><use href="#and" x="2043.4" y="393"/></g>
<g id="g27"><use href="#evd" x="2084.4" y="393"/></g>
<g id="tm5"><use href="#tim" x="2116.9" y="393"/><text class="t c" x="2117" y="403">according to<tspan x="2117" dy="5">follow-up</tspan><tspan x="2117" dy="5">timeframes</tspan></text></g>
<g id="ev1"><circle cx="2084.4" cy="436" r="7" fill="none" stroke="#000" stroke-width="1.4"/><rect x="2081.2" y="432.5" width="6.4" height="7" fill="none" stroke="#000" stroke-width="1.4"/><text class="t c" x="2107" y="433.5">secondary<tspan x="2107" dy="4.5">metastases OR</tspan><tspan x="2107" dy="4.5">recurrence</tspan></text></g>
<g id="k12"><circle class="kpi" cx="2109" cy="458.7" r="6.7"/><text class="t c" x="2109" y="472">Patients with new<tspan x="2109" dy="5">recurrence and/or</tspan><tspan x="2109" dy="4.5">distant</tspan><tspan x="2109" dy="5">metastases (#1b)</tspan></text></g>
<g id="t32"><rect class="task" x="2148.6" y="378" width="36.4" height="29" rx="4"/><text class="t c" x="2167" y="386">end of<tspan x="2167" dy="5">follow-up</tspan><tspan x="2167" dy="5">consultation</tspan></text></g>
<g id="e4"><circle class="end" cx="2208.3" cy="156" r="6.5"/></g>
<g id="e5"><circle class="end" cx="2208.3" cy="393" r="6.5"/></g>
<g id="e6"><circle class="end" cx="2208.3" cy="604.7" r="6.5"/></g>
<g id="n21"><path class="br" d="M2182 333H2178.8V369H2182"/><text class="t" x="2181" y="339">adaptation note: if<tspan x="2181" dy="5.7">survivorship teams are</tspan><tspan x="2181" dy="5">established in the CCCN,</tspan><tspan x="2181" dy="5">the refer to (e.g. for</tspan><tspan x="2181" dy="5.5">survivorship</tspan><tspan x="2181" dy="5.5">consultation)</tspan></text></g>

<g id="t33"><rect class="sub" x="1361.8" y="746.7" width="521.8" height="29.3" rx="4"/><text class="t c" x="1622" y="763">[optional] rehabilitation</text></g>
<g id="n22"><path class="br" d="M1737 726H1733V740H1737"/><text class="t" x="1735" y="731">adaptation note: optional according to<tspan x="1735" dy="5">national standards/ conditions</tspan></text></g>
<g id="t34"><rect class="sub" x="293" y="820" width="1733.6" height="29" rx="4"/><text class="t c" x="1160" y="836">supportive care</text></g>
<g id="n23"><path class="br" d="M1431 794H1427V815H1431"/><text class="t" x="1429.5" y="800">aim: maintain and improve quality of life; focus: pain management according<tspan x="1429.5" dy="5.5">to the WHO pain management scheme, nutrition, fatigue,</tspan><tspan x="1429.5" dy="6">complementary/ nutritional advice, symptom therapy, exercise</tspan></text></g>
<g id="k13"><circle class="kpi" cx="1618.3" cy="811" r="6.7"/><text class="t c" x="1620" y="794">Counselling social<tspan x="1620" dy="5">services (#8)</tspan></text></g>
<g id="k14"><circle class="kpi" cx="1679.3" cy="809" r="6.7"/><text class="t c" x="1679" y="790">Psycho-<tspan x="1679" dy="5">oncology team</tspan><tspan x="1679" dy="5">(#4)</tspan></text></g>
</g>

<g id="bands">
<g class="b" fill="#FFC000"><rect x="6" y="4" width="2310" height="130"/><rect x="1067" y="461" width="827" height="241"/></g>
<g class="b" fill="#ED7D31"><path d="M6 134H237V917H6ZM713 134H1067V702H713ZM1894 134H2132V702H1894Z"/></g>
<g class="b" fill="#2A4587"><path d="M237 134H713V702H237ZM2132 134H2316V917H2132Z"/></g>
<g class="b" fill="#70AD47"><path d="M1067 134H1894V461H1067ZM237 702H2132V917H237Z"/></g>
</g>

<g id="stains" filter="url(#blot)" fill="#777" opacity=".12">
<ellipse cx="2277" cy="668" rx="42" ry="13" transform="rotate(-35 2277 668)"/>
<ellipse cx="2226" cy="780" rx="42" ry="13" transform="rotate(-12 2226 780)"/>
<ellipse cx="2150" cy="738" rx="30" ry="13" transform="rotate(-15 2150 738)"/>
</g>

<g id="titles">
<text class="h" x="115.5" y="193">CCCN</text><text class="h" x="115.5" y="256.5">entry</text>
<text class="h" x="468" y="192.5">diagnosis</text>
<text class="h" x="884" y="192.5">treatment</text><text class="h" x="884" y="256">planning</text>
<text class="h" x="1156" y="86">patient activities</text>
<text class="h" x="1475" y="191.5">curative treatment</text>
<text class="h" x="1476" y="567.5">palliative treatment and end-of-</text><text class="h" x="1476" y="631.5">life care</text>
<text class="h" x="1179" y="828">supportive care / rehabilitation (optional)</text>
<text class="h" x="2008" y="192.5">follow-</text><text class="h" x="2008" y="256">up</text>
<text class="h" x="2217.5" y="192.5">end</text><text class="h" x="2217.5" y="256">of</text><text class="h" x="2217.5" y="319.5">CCCN</text><text class="h" x="2217.5" y="383">care</text>
</g>
</svg>
